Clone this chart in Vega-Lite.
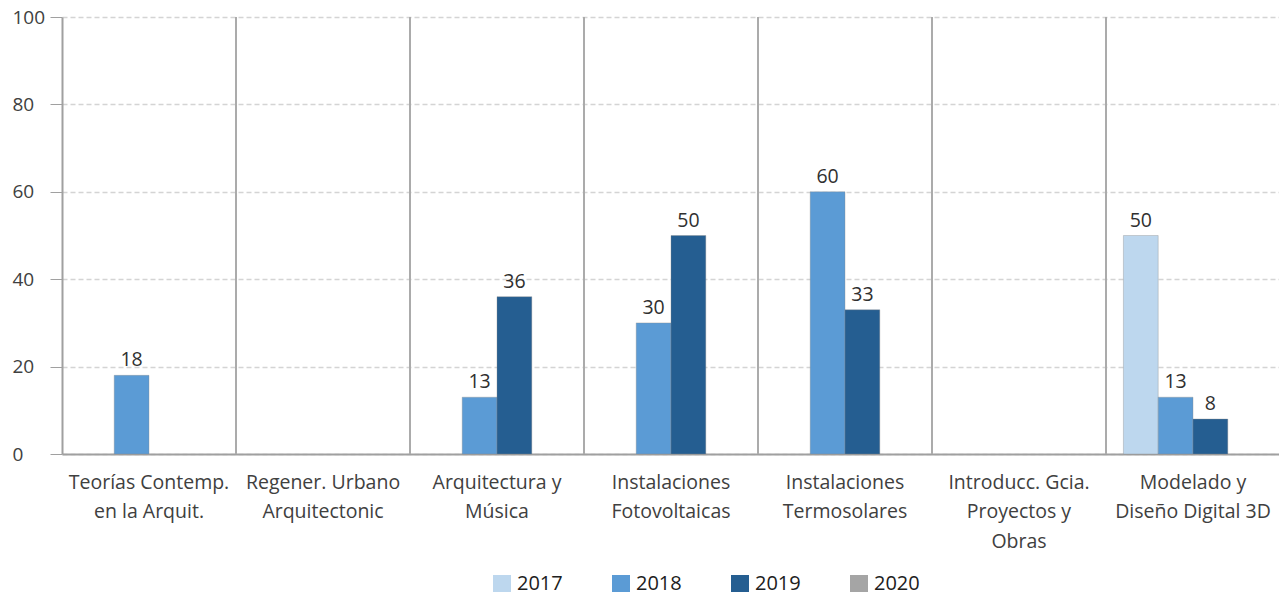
{
  "$schema": "https://vega.github.io/schema/vega-lite/v6.json",
  "width": 1218,
  "height": 437,
  "autosize": "none",
  "padding": {"left": 62, "top": 17, "right": 0, "bottom": 138},
  "background": "white",
  "config": {
    "view": {"stroke": null},
    "font": "Open Sans",
    "axis": {"labelFont": "Open Sans", "labelColor": "#404040"}
  },
  "datasets": {
    "bars": [
      {"cat": "Teorías Contemp.|en la  Arquit.", "year": "2018", "value": 18},
      {"cat": "Arquitectura y|Música", "year": "2018", "value": 13},
      {"cat": "Arquitectura y|Música", "year": "2019", "value": 36},
      {"cat": "Instalaciones|Fotovoltaicas", "year": "2018", "value": 30},
      {"cat": "Instalaciones|Fotovoltaicas", "year": "2019", "value": 50},
      {"cat": "Instalaciones|Termosolares", "year": "2018", "value": 60},
      {"cat": "Instalaciones|Termosolares", "year": "2019", "value": 33},
      {"cat": "Modelado y|Diseño Digital 3D", "year": "2017", "value": 50},
      {"cat": "Modelado y|Diseño Digital 3D", "year": "2018", "value": 13},
      {"cat": "Modelado y|Diseño Digital 3D", "year": "2019", "value": 8}
    ],
    "seps": [
      {"cat": "Regener. Urbano|Arquitectonic"},
      {"cat": "Arquitectura y|Música"},
      {"cat": "Instalaciones|Fotovoltaicas"},
      {"cat": "Instalaciones|Termosolares"},
      {"cat": "Introducc. Gcia.|Proyectos y|Obras"},
      {"cat": "Modelado y|Diseño Digital 3D"}
    ]
  },
  "layer": [
    {
      "data": {"name": "seps"},
      "mark": {"type": "rule", "color": "#ababab", "strokeWidth": 2},
      "encoding": {
        "x": {"field": "cat", "type": "nominal", "bandPosition": 0}
      }
    },
    {
      "data": {"name": "bars"},
      "mark": {"type": "bar", "stroke": "#8a8a8a", "strokeWidth": 0.6, "strokeOpacity": 0.6},
      "encoding": {
        "x": {
          "field": "cat",
          "type": "nominal",
          "sort": null,
          "scale": {
            "domain": [
              "Teorías Contemp.|en la  Arquit.",
              "Regener. Urbano|Arquitectonic",
              "Arquitectura y|Música",
              "Instalaciones|Fotovoltaicas",
              "Instalaciones|Termosolares",
              "Introducc. Gcia.|Proyectos y|Obras",
              "Modelado y|Diseño Digital 3D"
            ],
            "paddingInner": 0,
            "paddingOuter": 0
          },
          "axis": {
            "title": null,
            "labelAngle": 0,
            "labelAlign": "center",
            "labelExpr": "split(datum.label, '|')",
            "labelFontSize": 19.5,
            "labelLineHeight": 29.5,
            "labelPadding": 19,
            "labelBaseline": "top",
            "ticks": false,
            "domainColor": "#a0a0a0",
            "domainWidth": 2,
            "labelLimit": 200
          }
        },
        "xOffset": {
          "field": "year",
          "type": "nominal",
          "scale": {"domain": ["2017", "2018", "2019", "2020"], "paddingInner": 0, "paddingOuter": 0.5}
        },
        "y": {
          "field": "value",
          "type": "quantitative",
          "scale": {"domain": [0, 100]},
          "axis": {
            "title": null,
            "values": [0, 20, 40, 60, 80, 100],
            "labelFontSize": 19,
            "labelAlign": "left",
            "labelPadding": 38,
            "tickSize": 12,
            "tickColor": "#a0a0a0",
            "domainColor": "#a0a0a0",
            "domainWidth": 2,
            "gridColor": "#d4d4d4",
            "gridDash": [5, 3],
            "gridWidth": 1.5
          }
        },
        "color": {
          "field": "year",
          "type": "nominal",
          "scale": {"domain": ["2017", "2018", "2019", "2020"], "range": ["#bdd7ee", "#5b9bd5", "#255e91", "#a5a5a5"]},
          "legend": {
            "title": null,
            "orient": "none",
            "legendX": 430,
            "legendY": 557,
            "direction": "horizontal",
            "symbolType": "square",
            "symbolSize": 324,
            "symbolStrokeWidth": 0,
            "labelFontSize": 20,
            "labelColor": "#202020",
            "columnPadding": 48,
            "labelOffset": 5,
            "encode": {
              "symbols": {
                "update": {
                  "fill": {"signal": "datum.label == '2017' ? '#abb9cf' : datum.label == '2018' ? '#5b9bd5' : datum.label == '2019' ? '#255e91' : '#a5a5a5'"}
                }
              }
            }
          }
        }
      }
    },
    {
      "data": {"name": "bars"},
      "mark": {"type": "text", "baseline": "bottom", "dy": -5, "fontSize": 19.5, "color": "#303030"},
      "encoding": {
        "x": {"field": "cat", "type": "nominal"},
        "xOffset": {"field": "year", "type": "nominal"},
        "y": {"field": "value", "type": "quantitative"},
        "text": {"field": "value", "type": "quantitative"}
      }
    }
  ]
}
